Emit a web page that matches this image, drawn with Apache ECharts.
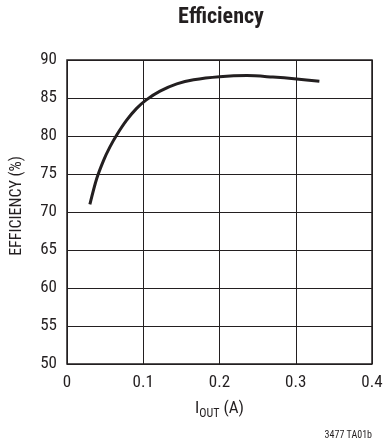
<!DOCTYPE html>
<html><head><meta charset="utf-8">
<script src="https://cdn.jsdelivr.net/npm/echarts@6/dist/echarts.min.js"></script>
<style>html,body{margin:0;padding:0;background:#fff}#c{width:387px;height:443px}</style>
</head><body><div id="c"></div>
<script>
const xTicks = [0, 0.1, 0.2, 0.3, 0.4];
const yTicks = [50, 55, 60, 65, 70, 75, 80, 85, 90];
const iout = [0.030, 0.039, 0.048, 0.056, 0.065, 0.078, 0.091, 0.104, 0.122, 0.144, 0.166, 0.200, 0.236, 0.270, 0.301, 0.331];
const efficiency = [71.0, 74.4, 76.8, 78.5, 80.1, 82.05, 83.6, 84.75, 85.9, 86.85, 87.4, 87.8, 87.95, 87.75, 87.5, 87.2];
const FONT = '"Liberation Sans Narrow", "Roboto Condensed", "Liberation Sans", sans-serif';
const chart = echarts.init(document.getElementById('c'), null, {renderer: 'canvas'});
chart.setOption({
  animation: false,
  backgroundColor: '#fff',
  title: {
    text: 'Efficiency', left: 216, top: 1, textAlign: 'center',
    textStyle: {fontFamily: FONT, fontWeight: 'bold', fontSize: 22, color: '#231f20'}
  },
  graphic: [{
    type: 'text', right: 15, top: 430,
    style: {text: '3477 TA01b', fontFamily: FONT, fontSize: 10, fill: '#231f20'}
  }],
  grid: {left: 67, right: 15, top: 60, bottom: 79, show: true, borderColor: '#231f20', borderWidth: 1.5},
  xAxis: {
    type: 'value', min: xTicks[0], max: xTicks[xTicks.length - 1], interval: 0.1,
    name: '{a|I}{s|OUT}{a| (A)}', nameLocation: 'middle', nameGap: 34,
    nameTextStyle: {rich: {
      a: {fontFamily: FONT, fontSize: 17, color: '#231f20'},
      s: {fontFamily: FONT, fontSize: 12, color: '#231f20', padding: [10, 0, 0, 0]}
    }},
    axisLine: {show: false}, axisTick: {show: false},
    splitLine: {show: true, lineStyle: {color: '#231f20', width: 1}},
    axisLabel: {fontFamily: FONT, fontSize: 17, color: '#231f20', margin: 10,
      formatter: v => (v === 0 ? '0' : v.toFixed(1))}
  },
  yAxis: {
    type: 'value', min: yTicks[0], max: yTicks[yTicks.length - 1], interval: 5,
    name: 'EFFICIENCY (%)', nameLocation: 'middle', nameGap: 42,
    nameTextStyle: {fontFamily: FONT, fontSize: 16, color: '#231f20', padding: [0, 0, 0, 12]},
    axisLine: {show: false}, axisTick: {show: false},
    splitLine: {show: true, lineStyle: {color: '#231f20', width: 1}},
    axisLabel: {fontFamily: FONT, fontSize: 17, color: '#231f20', margin: 10}
  },
  series: [{
    type: 'line', smooth: 0.3, showSymbol: false,
    data: iout.map((x, i) => [x, efficiency[i]]),
    lineStyle: {color: '#231f20', width: 3}
  }]
});
</script></body></html>
